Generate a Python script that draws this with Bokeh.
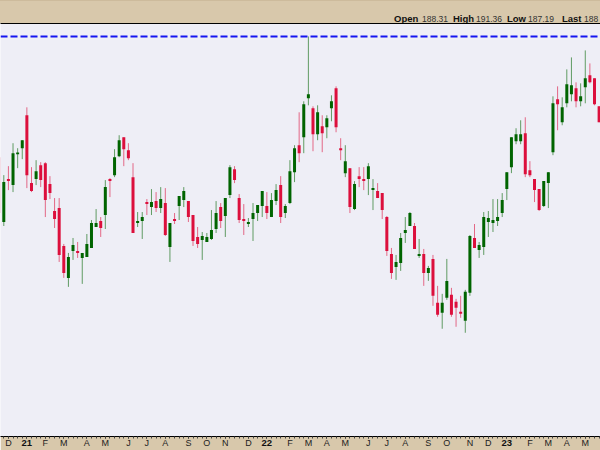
import pandas as pd
from bokeh.plotting import figure
from bokeh.layouts import column
from bokeh.models import ColumnDataSource, Span, LinearAxis, FixedTicker, Div
from bokeh.embed import file_html
from bokeh.resources import INLINE

# ---- data (weekly bars, week starting Monday) ----
first_week = "2020-11-23"

opens = [177.25, 161.0, 171.75, 170.25, 178.0, 179.5, 187.75, 170.75, 171.75, 175.25,
         175.75, 170.5, 163.75, 164.5, 155.0, 147.0, 153.75, 153.75, 152.0, 152.25,
         154.5, 159.75, 161.25, 162.75, 171.75, 172.75, 177.5, 182.25, 179.0, 172.25,
         160.75, 161.25, 166.0, 164.75, 166.25, 164.5, 165.75, 154.75, 161.75, 165.0,
         166.5, 166.25, 162.75, 157.25, 156.5, 156.0, 156.75, 159.25, 164.75, 162.5,
         167.75, 174.25, 167.0, 161.75, 160.5, 161.75, 163.25, 165.0, 165.0, 162.25,
         166.25, 170.25, 163.25, 165.75, 173.5, 180.25, 182.25, 192.0, 189.5, 183.0,
         185.0, 184.75, 189.5, 194.5, 179.5, 173.25, 174.5, 164.25, 172.5, 171.75,
         171.75, 169.0, 168.75, 168.25, 162.25, 153.0, 149.75, 150.75, 158.25, 160.0,
         160.0, 152.5, 153.0, 148.25, 151.75, 140.75, 138.25, 142.0, 142.75, 141.0,
         138.5, 136.25, 143.25, 157.0, 154.0, 154.75, 161.0, 160.75, 161.25, 163.25,
         169.25, 174.75, 181.25, 181.25, 183.25, 174.0, 171.75, 169.25, 165.0, 170.75,
         178.5, 191.75, 186.0, 190.75, 193.0, 194.5, 191.25, 194.75, 197.75, 197.0,
         190.0]

highs = [177.75, 172.75, 175.0, 180.75, 179.5, 181.5, 189.75, 174.75, 176.5, 176.0,
         176.0, 172.5, 167.0, 167.0, 155.5, 153.25, 157.0, 156.0, 153.25, 158.0,
         161.5, 164.25, 162.25, 171.5, 172.0, 179.25, 182.75, 182.25, 180.75, 175.75,
         163.5, 163.5, 166.75, 169.25, 168.5, 169.75, 169.5, 160.75, 163.25, 167.5,
         169.75, 166.25, 162.75, 159.75, 158.5, 158.25, 164.0, 166.25, 165.75, 167.0,
         175.25, 175.0, 168.0, 165.5, 162.0, 165.75, 165.25, 168.75, 168.5, 168.25,
         170.5, 172.5, 165.5, 176.5, 180.25, 188.5, 191.25, 207.5, 190.0, 190.25,
         187.75, 187.75, 192.75, 195.0, 182.0, 180.25, 174.5, 171.25, 174.75, 174.75,
         175.75, 171.75, 170.75, 168.25, 162.5, 154.5, 152.75, 158.25, 162.25, 163.5,
         160.75, 156.75, 154.25, 150.0, 152.75, 145.0, 143.0, 151.75, 144.5, 141.75,
         142.5, 144.0, 157.75, 160.5, 156.0, 163.5, 163.75, 166.75, 166.75, 168.25,
         173.5, 182.25, 184.5, 186.5, 187.25, 176.25, 171.75, 169.25, 171.25, 173.5,
         192.5, 195.0, 192.25, 199.25, 202.25, 196.0, 195.75, 204.0, 200.75, 197.0,
         190.0]

lows = [162.75, 160.0, 169.0, 168.5, 174.5, 176.75, 169.5, 168.5, 170.25, 169.75,
        162.25, 166.75, 159.5, 151.0, 147.0, 144.75, 151.5, 152.0, 145.5, 152.25,
        154.5, 159.75, 157.25, 159.25, 167.25, 172.25, 177.25, 175.0, 176.5, 158.25,
        159.75, 156.75, 162.75, 162.75, 163.5, 163.25, 157.5, 151.0, 160.5, 161.5,
        164.75, 161.0, 155.0, 154.5, 151.5, 156.0, 156.5, 158.25, 159.5, 157.25,
        167.0, 170.75, 160.75, 157.75, 159.75, 156.25, 161.25, 162.25, 161.75, 162.25,
        165.25, 160.75, 162.0, 165.5, 171.0, 176.0, 178.25, 190.25, 178.75, 181.5,
        178.5, 182.0, 186.25, 183.5, 176.5, 172.25, 163.25, 164.0, 169.75, 169.0,
        167.75, 164.0, 167.0, 161.75, 152.5, 146.75, 146.5, 148.75, 155.75, 160.0,
        154.25, 152.0, 145.0, 146.25, 140.0, 137.25, 134.25, 141.5, 137.25, 134.75,
        137.0, 133.25, 142.5, 154.5, 152.0, 152.75, 157.25, 158.5, 160.0, 162.25,
        166.5, 173.25, 180.5, 180.5, 172.25, 172.25, 166.0, 163.75, 164.75, 164.5,
        177.75, 184.0, 185.25, 189.75, 191.25, 189.75, 190.0, 190.75, 195.75, 190.25,
        186.0]

closes = [163.25, 171.0, 171.25, 178.25, 178.4, 181.5, 172.75, 168.75, 173.75, 171.5,
          166.5, 168.25, 161.75, 152.75, 148.25, 152.25, 155.25, 153.25, 153.25, 155.5,
          160.75, 160.75, 159.5, 169.75, 171.25, 177.25, 181.5, 179.25, 177.0, 158.25,
          161.25, 162.25, 165.5, 166.0, 164.5, 166.75, 157.75, 160.75, 161.25, 167.5,
          168.75, 162.25, 156.25, 155.5, 157.5, 157.25, 159.0, 163.25, 161.25, 167.0,
          174.75, 171.5, 161.5, 161.25, 161.0, 163.25, 165.25, 168.75, 163.25, 166.5,
          169.0, 162.25, 165.0, 173.75, 179.5, 178.25, 190.5, 193.0, 183.0, 188.5,
          183.25, 187.0, 191.25, 184.75, 179.0, 176.25, 164.75, 170.5, 171.75, 171.25,
          175.0, 169.5, 167.0, 164.0, 153.75, 148.25, 151.0, 157.0, 159.0, 163.25,
          154.25, 153.0, 148.25, 149.5, 142.5, 137.75, 140.75, 146.25, 137.75, 139.5,
          138.0, 143.5, 157.5, 154.5, 155.25, 162.25, 162.0, 161.5, 162.25, 166.5,
          173.5, 182.25, 183.0, 183.0, 173.0, 172.75, 169.0, 164.0, 171.25, 173.5,
          190.75, 190.5, 189.75, 195.5, 195.25, 191.25, 192.5, 197.0, 196.0, 190.5,
          186.0]

month_letters = ["J", "F", "M", "A", "M", "J", "J", "A", "S", "O", "N", "D"]
header_words = ["Open", "High", "Low", "Last"]
header_values = ["188.31", "191.36", "187.19", "188"]

# ---- derived ----
weeks = pd.date_range(first_week, periods=len(opens), freq="W-MON")
xs = list(range(len(weeks)))
RED, GREEN = "#DC0F3C", "#006400"
colors = [GREEN if c >= o else RED for o, c in zip(opens, closes)]
src = ColumnDataSource(dict(
    x=xs, open=opens, high=highs, low=lows, close=closes,
    top=[max(o, c) for o, c in zip(opens, closes)],
    bottom=[min(o, c) for o, c in zip(opens, closes)],
    color=colors,
))

tick_pos, month_over, year_pos, year_over = [], {}, [], {}
for i in range(1, len(weeks)):
    if weeks[i].month != weeks[i - 1].month:
        tick_pos.append(i)
        if weeks[i].month == 1:
            month_over[i] = " "
            year_pos.append(i)
            year_over[i] = f"{weeks[i].year % 100:02d}"
        else:
            month_over[i] = month_letters[weeks[i].month - 1]

TAN = "#D8C8AB"
BG = "#EEEEF6"
FONT = "Liberation Sans"

# ---- header bar ----
widths = [28, 31, 23, 31, 21, 34, 22, 40]
pieces = []
k = 0
for w, v in zip(header_words, header_values):
    pieces.append(f'<span style="display:inline-block;width:{widths[k]}px;font-weight:bold;'
                  f'font-size:9.5px;line-height:10px;color:#111">{w}</span>')
    pieces.append(f'<span style="display:inline-block;width:{widths[k+1]}px;'
                  f'font-size:8.5px;line-height:10px;color:#333">{v}</span>')
    k += 2
header = Div(text="".join(pieces), width=600, height=23, margin=0,
             styles={"background-color": TAN, "font-family": FONT, "white-space": "nowrap",
                     "overflow": "hidden", "padding-left": "394px", "padding-top": "12px",
                     "line-height": "10px", "box-sizing": "border-box",
                     "border-top": "1px solid #CDBB9C"})

# ---- chart ----
p = figure(width=600, height=427, x_range=(0.285, 130.3), y_range=(107.25, 210.75),
           output_backend="svg", toolbar_location=None, y_axis_location=None,
           min_border_left=0, min_border_right=0, min_border_top=0, min_border_bottom=13,
           background_fill_color=BG, border_fill_color=TAN, outline_line_color=None,
           margin=0)
p.xgrid.visible = False
p.ygrid.visible = False

ax = p.xaxis[0]
ax.ticker = FixedTicker(ticks=tick_pos, minor_ticks=xs)
ax.major_label_overrides = month_over
ax.axis_line_color = "black"
ax.major_tick_in = 0
ax.major_tick_out = 2
ax.minor_tick_in = 0
ax.minor_tick_out = 2
ax.major_tick_line_color = "#222222"
ax.minor_tick_line_color = "#444444"
ax.major_label_standoff = -1
ax.major_label_text_font = FONT
ax.major_label_text_font_size = "9px"
ax.major_label_text_color = "#222222"

year_ax = LinearAxis(ticker=FixedTicker(ticks=year_pos), major_label_overrides=year_over,
                     axis_line_color=None, major_tick_line_color=None, minor_tick_line_color=None,
                     major_tick_out=0, major_tick_in=0, minor_tick_out=0, minor_tick_in=0,
                     major_label_standoff=-11, major_label_text_font=FONT,
                     major_label_text_font_size="9.5px", major_label_text_font_style="bold",
                     major_label_text_color="#111111")
p.add_layout(year_ax, "below")

top_ax = LinearAxis(ticker=FixedTicker(ticks=[]), axis_line_color="black",
                    major_tick_out=0, major_tick_in=0, minor_tick_out=0, minor_tick_in=0,
                    major_label_text_font_size="0px")
p.add_layout(top_ax, "above")

# wicks and bodies
p.segment(x0="x", y0="low", x1="x", y1="high", line_color="color", line_alpha=0.6,
          line_width=1, source=src)
p.vbar(x="x", width=0.65, top="top", bottom="bottom", fill_color="color",
       line_color=None, source=src)

# dashed line at the period high
p.add_layout(Span(location=max(highs), dimension="width", line_color="#1414F0",
                  line_width=2, line_dash="7 3"))

layout = column(header, p, spacing=0, margin=0)
open("out.html", "w").write(file_html(layout, INLINE))
